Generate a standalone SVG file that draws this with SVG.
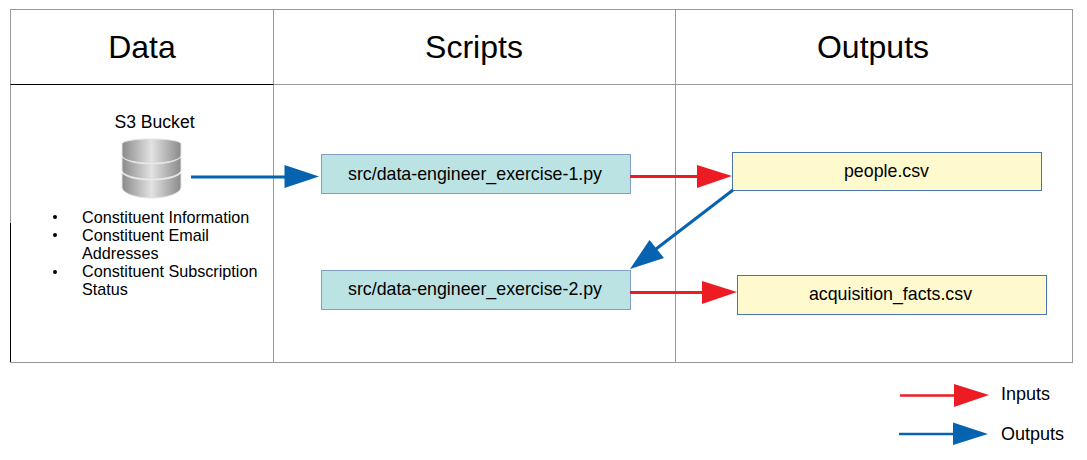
<svg xmlns="http://www.w3.org/2000/svg" width="1087" height="460" viewBox="0 0 1087 460">
<defs>
<linearGradient id="db" x1="0" x2="1" y1="0" y2="0"><stop offset="0" stop-color="#8a8a8a"/><stop offset="0.5" stop-color="#e2e2e2"/><stop offset="1" stop-color="#8a8a8a"/></linearGradient>
</defs>
<style>
text{font-family:"Liberation Sans",Arial,sans-serif;fill:#000}
.h{font-size:32px;text-anchor:middle}
.t{font-size:16.200px}
.l{font-size:18px}
.m{font-size:17.800px;text-anchor:middle}
.grid{stroke:#999;stroke-width:1;fill:none}
.blk{stroke:#000;stroke-width:1;fill:none}
.blue{stroke:#0563b0;stroke-width:3;fill:none}
.red{stroke:#ed1c24;stroke-width:3;fill:none}
.fb{fill:#0563b0}.fr{fill:#ed1c24}
.s{fill:#bbe3e3;stroke:#7f9fc4;stroke-width:1}
.o{fill:#fffacd;stroke:#4a76ad;stroke-width:1}
.d{fill:url(#db);stroke:#e4e4e4;stroke-width:1}
</style>
<g id="table">
<rect class="grid" x="10.500" y="9.500" width="1062" height="353"/>
<line class="grid" x1="273.500" y1="9.500" x2="273.500" y2="362.500"/>
<line class="grid" x1="675.500" y1="9.500" x2="675.500" y2="362.500"/>
<line class="grid" x1="273.500" y1="84.500" x2="1072.500" y2="84.500"/>
<line class="blk" x1="10.500" y1="84.500" x2="273.500" y2="84.500"/>
<line class="blk" x1="10.500" y1="223" x2="10.500" y2="362"/>
<text class="h" x="142" y="58">Data</text>
<text class="h" x="474" y="58">Scripts</text>
<text class="h" x="873" y="58">Outputs</text>
</g>
<g id="s3">
<text class="m" x="154.500" y="128" style="font-size:17.600px">S3 Bucket</text>
<path class="d" d="M122 173v14c0 6 13 11 29.500 11s29.500-5 29.500-11v-14c-6 5-16 7-29.500 7s-23.500-2-29.500-7z"/>
<path class="d" d="M122 157v13c0 5 13 9 29.500 9s29.500-4 29.500-9v-13c-6 5-16 7-29.500 7s-23.500-2-29.500-7z"/>
<path class="d" d="M122 144v11c0 5 13 8 29.500 8s29.500-3 29.500-8v-11c0-3-13-5-29.500-5s-29.500 2-29.500 5z"/>
</g>
<g id="list">
<circle cx="55" cy="217" r="2"/><text class="t" x="82" y="223">Constituent Information</text>
<circle cx="55" cy="235" r="2"/><text class="t" x="82" y="241">Constituent Email</text>
<text class="t" x="82" y="259">Addresses</text>
<circle cx="55" cy="272" r="2"/><text class="t" x="82" y="277">Constituent Subscription</text>
<text class="t" x="82" y="295">Status</text>
</g>
<g id="script1"><rect class="s" x="321.500" y="154.500" width="309" height="39"/><text class="m" x="475" y="180">src/data-engineer_exercise-1.py</text></g>
<g id="script2"><rect class="s" x="321.500" y="270.500" width="309" height="39"/><text class="m" x="475" y="295">src/data-engineer_exercise-2.py</text></g>
<g id="people"><rect class="o" x="732.500" y="152.500" width="309" height="38"/><text class="m" x="886.500" y="177">people.csv</text></g>
<g id="acq"><rect class="o" x="737.500" y="275.500" width="309" height="39"/><text class="m" x="890.500" y="300">acquisition_facts.csv</text></g>
<g id="connectors">
<path class="blue" d="M191 177H286"/><path class="fb" d="M319 176.500L284.500 165V188z"/>
<path class="red" d="M630 176.500H698"/><path class="fr" d="M732 176L697 165V188z"/>
<path class="blue" d="M733 190L656 249"/><path class="fb" d="M630 269L649.500 240L664 258z"/>
<path class="red" d="M630 292.500H703"/><path class="fr" d="M737 292L702 281V304z"/>
<path class="red" style="stroke-width:2.500px" d="M900 395.500H956"/><path class="fr" d="M989 395L954 384V407z"/>
<path class="blue" style="stroke-width:2.500px" d="M899 434H955"/><path class="fb" d="M988 434L953 422.500V445z"/>
</g>
<g id="legend">
<text class="l" x="1001" y="400">Inputs</text>
<text class="l" x="1001" y="440">Outputs</text>
</g>
</svg>
